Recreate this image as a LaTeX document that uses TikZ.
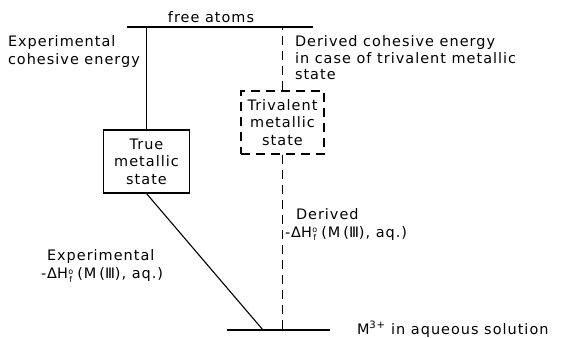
\documentclass[tikz,border=0pt]{standalone}
\usepackage{fontspec}
\setmainfont[LetterSpace=7]{DejaVu Sans}
\newfontfamily\plainfont{DejaVu Sans}
\newcommand{\ofstack}{\kern0.5pt\raisebox{-0.45ex}{\fontsize{8}{7.5}\selectfont\shortstack{o\\[-1pt]f}}}
\newcommand{\dHf}{-\kern1pt{\plainfont Δ}H\ofstack\kern4pt(M\kern3pt({\plainfont Ⅲ}), aq.)}
\begin{document}
\begin{tikzpicture}[x=1bp,y=-1bp,
  txt/.style={inner sep=0pt, outer sep=0pt, align=left, font=\fontsize{14.5}{18}\selectfont},
  boxtxt/.style={inner sep=0pt, align=center, font=\fontsize{14.5}{17.5}\selectfont, line width=1.1pt, minimum height=63bp},
  level/.style={line width=1.2pt},
  conn/.style={line width=1.1pt},
  dconn/.style={line width=1.1pt, dash pattern=on 9bp off 6bp}]
\useasboundingbox (0,0) rectangle (570,337);
% levels
\coordinate (topL) at (127,27);
\coordinate (topR) at (313,27);
\coordinate (botL) at (227,330);
\coordinate (botR) at (330,330);
\coordinate (diagEnd) at (263,330);
\draw[level] (topL) -- (topR);
\draw[level] (botL) -- (botR);
% boxes
\node[boxtxt, draw, minimum width=86bp] (true) at (146.5,161.5) {True\\metallic\\state};
\node[boxtxt, draw, dash pattern=on 9bp off 6bp, minimum width=83bp] (tri) at (282.5,122.5) {Trivalent\\metallic\\state};
% connectors
\draw[conn] (true.north) -- (true.north |- topL);
\draw[conn] (true.south) -- (diagEnd);
\draw[dconn] (tri.north) -- (tri.north |- topL);
\draw[dconn] (tri.south) -- (tri.south |- botL);
% labels
\node[txt, anchor=base] (free) at (211,22) {free atoms};
\node[txt, anchor=north west] (expcoh) at (8,36) {Experimental\\cohesive energy};
\node[txt, anchor=north west, font=\fontsize{14.5}{16.5}\selectfont] (dercoh) at (295,36) {Derived cohesive energy\\in case of trivalent metallic\\state};
\node[txt, anchor=north west] (expdh) at (41,250) {\hspace*{6bp}Experimental\\\dHf};
\node[txt, anchor=north west, font=\fontsize{14.5}{17.5}\selectfont] (derdh) at (285,209) {\hspace*{11bp}Derived\\\dHf};
\node[txt, anchor=base west] (mion) at (357,334) {M\textsuperscript{3+} in aqueous solution};
\end{tikzpicture}
\end{document}
